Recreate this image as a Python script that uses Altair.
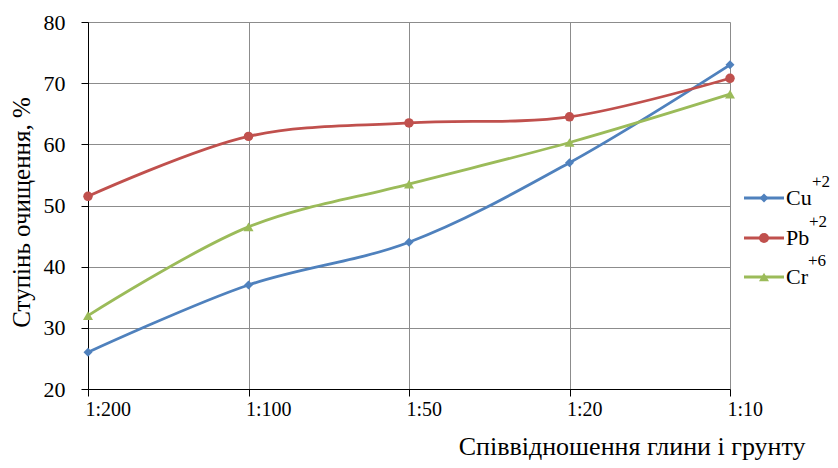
import altair as alt
import pandas as pd

categories = ["1:200", "1:100", "1:50", "1:20", "1:10"]
series_names = ["Cu", "Pb", "Cr"]
sup_labels = ["+2", "+2", "+6"]
cu_values = [26.0, 37.0, 44.0, 57.0, 73.0]
pb_values = [51.5, 61.3, 63.5, 64.5, 70.8]
cr_values = [32.0, 46.5, 53.5, 60.3, 68.2]
colors = ["#4F81BD", "#C0504D", "#9BBB59"]
shapes = ["diamond", "circle", "triangle-up"]
sizes = [80, 100, 100]
y_ticks = [20, 30, 40, 50, 60, 70, 80]

rows = []
for name, vals in zip(series_names, [cu_values, pb_values, cr_values]):
    for c, v in zip(categories, vals):
        rows.append({"series": name, "ratio": c, "value": v})
df = pd.DataFrame(rows)

FONT = "Liberation Serif"
W, H = 642, 367

x_enc = alt.X(
    "ratio:O",
    sort=categories,
    scale=alt.Scale(type="point", padding=0),
    axis=alt.Axis(
        title="Співвідношення глини і грунту",
        labelAngle=0,
        labelFontSize=20,
        labelColor="#000000",
        labelAlign="left",
        labelBaseline="top",
        labelOffset=-3,
        labelPadding=3,
        tickSize=7,
        tickColor="#000000",
        domainColor="#000000",
        gridColor="#8C8C8C",
        grid=True,
        titleFontSize=26,
        titleFontWeight="normal",
        titleColor="#000000",
        titleAnchor="start",
        titleAlign="right",
        titleX=717,
        titleY=65,
        titleBaseline="alphabetic",
    ),
)
y_enc = alt.Y(
    "value:Q",
    scale=alt.Scale(domain=[20, 80], nice=False),
    axis=alt.Axis(
        title="Ступінь очищення, %",
        values=y_ticks,
        labelFontSize=22,
        labelColor="#000000",
        labelPadding=16,
        tickSize=7,
        tickColor="#000000",
        domainColor="#000000",
        gridColor="#8C8C8C",
        titleFontSize=25,
        titleFontWeight="normal",
        titleColor="#000000",
        titleAngle=-90,
        titleX=-67,
        titleY=190,
        titleAlign="center",
        titleBaseline="middle",
    ),
)
color_enc = alt.Color(
    "series:N",
    scale=alt.Scale(domain=series_names, range=colors),
    legend=None,
)

base = alt.Chart(df)
lines = base.mark_line(interpolate="catmull-rom", strokeWidth=2.8).encode(
    x=x_enc, y=y_enc, color=color_enc, detail="series:N"
)
points = base.mark_point(filled=True, opacity=1).encode(
    x=x_enc,
    y=y_enc,
    color=color_enc,
    shape=alt.Shape("series:N", scale=alt.Scale(domain=series_names, range=shapes), legend=None),
    size=alt.Size("series:N", scale=alt.Scale(domain=series_names, range=sizes), legend=None),
)

layers = [lines, points]

# manual legend with superscripts
leg_df = pd.DataFrame({"series": series_names, "sup": sup_labels})
row_y = [176, 216, 255]
base_w = [26, 23, 22]
for i, name in enumerate(series_names):
    d = alt.Chart(leg_df[leg_df.series == name])
    layers.append(
        d.mark_rule(color=colors[i], strokeWidth=2.8).encode(
            x=alt.value(656), x2=alt.value(696), y=alt.value(row_y[i])
        )
    )
    layers.append(
        d.mark_point(filled=True, opacity=1, color=colors[i], shape=shapes[i], size=sizes[i]).encode(
            x=alt.value(676), y=alt.value(row_y[i])
        )
    )
    layers.append(
        d.mark_text(font=FONT, fontSize=22, align="left", baseline="alphabetic", color="#000000").encode(
            x=alt.value(698), y=alt.value(row_y[i] + 7), text="series:N"
        )
    )
    layers.append(
        d.mark_text(font=FONT, fontSize=17, align="left", baseline="alphabetic", color="#000000").encode(
            x=alt.value(698 + base_w[i]), y=alt.value(row_y[i] - 11), text="sup:N"
        )
    )

chart = (
    alt.layer(*layers)
    .properties(
        width=W,
        height=H,
        autosize=alt.AutoSizeParams(type="none"),
        padding={"left": 80, "top": 14, "right": 100, "bottom": 71},
    )
    .configure_view(stroke=None)
    .configure(background="#FFFFFF", font=FONT)
    .configure_axis(labelFont=FONT, titleFont=FONT)
    .configure_text(font=FONT)
)

chart.save("out.html", embed_options={"renderer": "svg", "actions": False})
